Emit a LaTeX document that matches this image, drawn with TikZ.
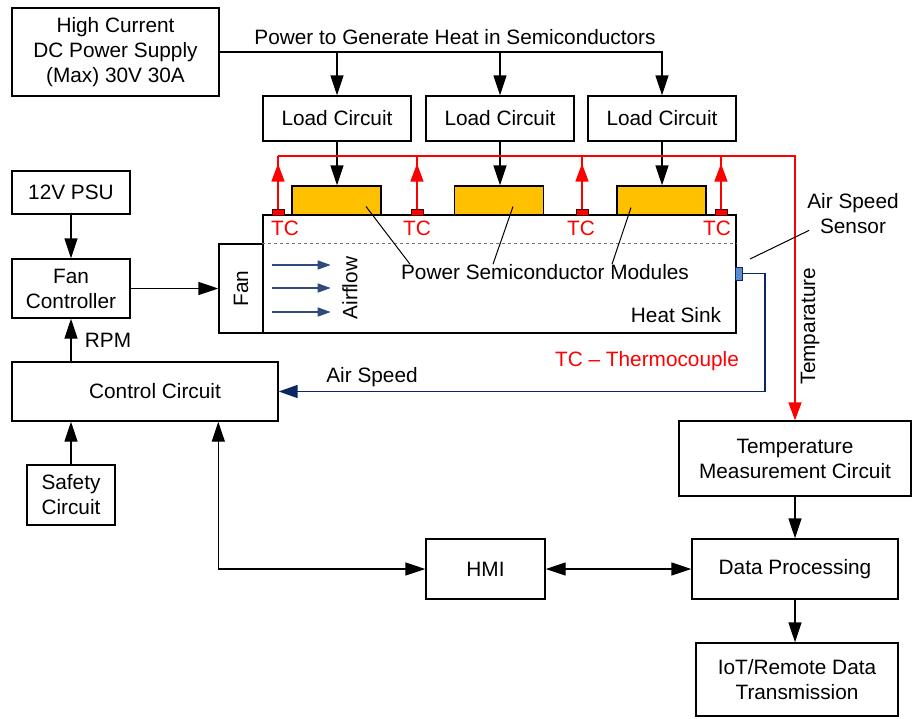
\documentclass[tikz,border=0pt]{standalone}
\usepackage{fontspec}
\setmainfont{Liberation Sans}
\usepackage{xcolor}
\definecolor{modGold}{HTML}{FFC000}
\definecolor{tcRed}{HTML}{FF0000}
\definecolor{airNavy}{HTML}{0B2565}
\definecolor{flowBlue}{HTML}{2F4B7C}
\definecolor{sensBlue}{HTML}{5B8BD0}
\usetikzlibrary{arrows.meta}

\tikzset{
  blk/.style={draw, line width=1.4pt, fill=white, align=center, inner sep=0pt},
  modbox/.style={draw, line width=1.4pt, fill=modGold, inner sep=0pt, minimum width=89, minimum height=29},
  tcbox/.style={draw=black!70!red, line width=0.8pt, fill=tcRed, inner sep=0pt, minimum width=12, minimum height=6},
  wire/.style={line width=1.4pt},
  tcwire/.style={line width=1.5pt, tcRed},
  lbl/.style={inner sep=0pt, align=center}
}

\begin{document}
\begin{tikzpicture}[x=1pt, y=-1pt, >={Triangle[length=20pt, width=13pt]},
  font=\fontsize{20.8}{25}\selectfont]
  \useasboundingbox (0,0) rectangle (912,718);
  % top: supply and the three loads
  \node[blk, minimum width=207, minimum height=88] (supply) at (115.5,52)
    {High Current\\DC Power Supply\\(Max) 30V 30A};
  \node[lbl] (powerlbl) at (455,37) {Power to Generate Heat in Semiconductors};
  \node[blk, minimum width=148, minimum height=45] (load1) at (337,118.5) {Load Circuit};
  \node[blk, minimum width=148, minimum height=45] (load2) at (500,118.5) {Load Circuit};
  \node[blk, minimum width=148, minimum height=45] (load3) at (662,118.5) {Load Circuit};
  \draw[wire, ->] (supply.east) -| (load3.north);
  \draw[wire, ->] (load1.north |- supply.east) -- (load1.north);
  \draw[wire, ->] (load2.north |- supply.east) -- (load2.north);

  % heat sink with fan, modules and thermocouples
  \node[blk, minimum width=473, minimum height=118] (sink) at (499.5,274) {};
  \node[blk, minimum width=44, minimum height=89] (fan) at (241,288.5) {\rotatebox{90}{Fan}};
  \draw[dashed, black!55, line width=0.9pt] (sink.west |- fan.north) -- (sink.east |- fan.north);
  \node[modbox] (mod1) at (336.5,200.5) {};
  \node[modbox] (mod2) at (499,200.5) {};
  \node[modbox] (mod3) at (661.5,200.5) {};
  \foreach \i in {1,2,3}
    \draw[wire, ->] (load\i.south) -- (load\i.south |- mod\i.north);
  \node[tcbox] (tc1) at (278,212) {};
  \node[tcbox] (tc2) at (417,212) {};
  \node[tcbox] (tc3) at (582,212) {};
  \node[tcbox] (tc4) at (721,212) {};
  \node[lbl, tcRed] (tclbl1) at (285,228) {TC};
  \node[lbl, tcRed] (tclbl2) at (417,228) {TC};
  \node[lbl, tcRed] (tclbl3) at (581,228) {TC};
  \node[lbl, tcRed] (tclbl4) at (717,228) {TC};
  \node[lbl, rotate=90] (flowlbl) at (350,288) {Airflow};
  \foreach \dy in {-23.5,-0.5,23.5}
    \draw[line width=1.4pt, flowBlue, -{Triangle[length=13pt, width=9pt]}]
      ([shift={(8,\dy)}]fan.east) -- ++(59,0);
  \node[lbl] (psm) at (545,272) {Power Semiconductor Modules};
  \draw[line width=1pt] ([xshift=-135]psm.north) -- ([shift={(29.5,6)}]mod1.center);
  \draw[line width=1pt] ([xshift=-52]psm.north) -- ([shift={(14,6)}]mod2.center);
  \draw[line width=1pt] ([xshift=67]psm.north) -- ([shift={(-30.5,7)}]mod3.center);
  \node[lbl] (sinklbl) at (676,315) {Heat Sink};

  % thermocouple bus to measurement
  \coordinate (bus) at (795,156);
  \node[blk, minimum width=232, minimum height=75] (temp) at (795,458.5)
    {Temperature\\Measurement Circuit};
  \foreach \i in {1,2,3,4} {
    \draw[tcwire] (tc\i.north) -- (tc\i.north |- bus);
    \draw[tcwire, -{Triangle[length=18pt, width=13pt]}] (tc\i.north) -- ++(0,-45);
  }
  \draw[tcwire, -{Triangle[length=18pt, width=13pt]}] (tc1.north |- bus) -- (bus) -- (temp.north);
  \node[lbl, rotate=90] (templbl) at (810,326) {Temparature};
  \node[lbl, tcRed] (tcnote) at (647,361) {TC -- Thermocouple};

  % air speed sensor
  \node[draw=airNavy, line width=0.8pt, fill=sensBlue, inner sep=0pt,
    minimum width=7, minimum height=13] (sensor) at (738.5,273.5) {};
  \node[lbl] (senslbl) at (853,214) {Air Speed\\Sensor};
  \coordinate (senstip) at (750,259);
  \draw[line width=1pt] (senstip) -- ([shift={(2,-4)}]senslbl.south west);

  % left column
  \node[blk, minimum width=118, minimum height=43] (psu12) at (71,192.5) {12V PSU};
  \node[blk, minimum width=118, minimum height=59] (fanctl) at (71,288.5) {Fan\\Controller};
  \node[blk, minimum width=266, minimum height=59] (ctrl) at (145,391.5) {\hspace{20pt}Control Circuit};
  \node[blk, minimum width=88, minimum height=60] (safety) at (71,495) {Safety\\Circuit};
  \node[lbl] (rpmlbl) at (108,340) {RPM};
  \draw[wire, ->] (psu12.south) -- (fanctl.north);
  \draw[wire, ->] (fanctl.east) -- (fan.west);
  \draw[wire, ->] (fanctl.south |- ctrl.north) -- (fanctl.south);
  \draw[wire, ->] (safety.north) -- (safety.north |- ctrl.south);
  \coordinate (asbend) at (765,391.5);
  \draw[line width=1.5pt, airNavy, -{Triangle[length=19pt, width=13pt]}] (sensor.east) -| (asbend) -- (ctrl.east);
  \node[lbl] (aslbl) at (372,377) {Air Speed};

  % bottom: HMI and data chain
  \node[blk, minimum width=119, minimum height=60] (hmi) at (485.5,569) {HMI};
  \node[blk, minimum width=206, minimum height=60] (dataproc) at (795,569) {Data Processing};
  \node[blk, minimum width=202, minimum height=73] (iot) at (797,679.5)
    {IoT/Remote Data\\Transmission};
  \draw[wire, <->] (ctrl.south -| fan.west) |- (hmi.west);
  \draw[wire, <->] (hmi.east) -- (dataproc.west);
  \draw[wire, ->] (temp.south) -- (dataproc.north);
  \draw[wire, ->] (dataproc.south) -- (dataproc.south |- iot.north);
\end{tikzpicture}
\end{document}
